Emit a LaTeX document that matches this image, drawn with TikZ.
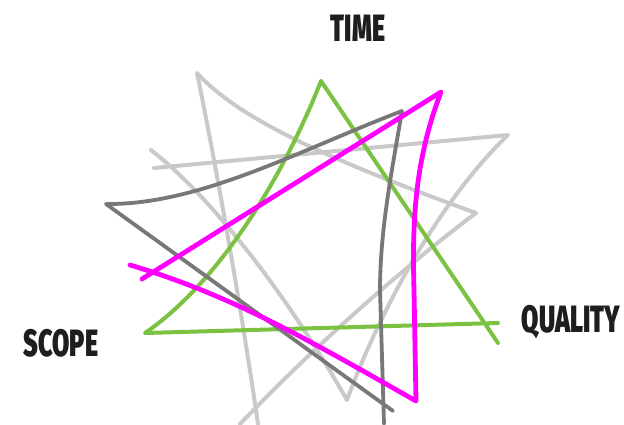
\documentclass[tikz,border=0pt]{standalone}
\usepackage{fontspec}
\usepackage{tikz}
\newfontfamily\brushfont[FakeStretch=0.66]{Fira Sans Black}
\definecolor{linegreen}{HTML}{7BC142}
\definecolor{linepink}{HTML}{FF00FF}
\definecolor{linedark}{HTML}{787876}
\definecolor{linelight}{HTML}{C9C9C9}
\definecolor{labelink}{HTML}{1E1E1C}
\tikzset{
  % ---- strokes ---------------------------------------------------------
  tstroke/.style={line width=4pt, line cap=round, line join=round},
  tlight/.style={tstroke, draw=linelight},
  tgreen/.style={tstroke, draw=linegreen},
  tdark/.style={tstroke, draw=linedark, line width=3.8pt},
  tpink/.style={tstroke, draw=linepink, line width=4.8pt},
  % ---- labels ----------------------------------------------------------
  tlabel/.style={font=\brushfont\fontsize{38}{38}\selectfont, text=labelink,
                 inner sep=0pt},
}
\begin{document}
\begin{tikzpicture}[x=1pt, y=-1pt]
\useasboundingbox (0,0) rectangle (624,424);

% ---- labels ----------------------------------------------------------
\node[tlabel] (time)    at (358,28)  {TIME};
\node[tlabel] (quality) at (571,322) {QUALITY};
\node[tlabel] (scope)   at (61,343)  {SCOPE};

% ---- light triangle, top vertex --------------------------------------
\coordinate (la) at (197,73);
\coordinate (lb) at (476,213);
\coordinate (lc) at (258,424);
\coordinate (ld) at (240,424);
\draw[tlight] (lc) .. controls (240,300) and (215,160) .. (la)
  .. controls (240,120) and (330,160) .. (lb)
  .. controls (420,255) and (330,330) .. (ld);

% ---- light triangle, right vertex ------------------------------------
\coordinate (ma) at (154,168);
\coordinate (mb) at (508,135);
\coordinate (mc) at (347,400);
\coordinate (md) at (151,150);
\draw[tlight] (ma) -- (mb)
  .. controls (440,200) and (380,310) .. (mc)
  .. controls (290,300) and (215,200) .. (md);

% ---- green triangle --------------------------------------------------
\coordinate (ga) at (321,81);
\coordinate (gb) at (498,343);
\coordinate (gc) at (145,333);
\coordinate (gd) at (498,323);
\draw[tgreen] (gb) -- (ga) .. controls (280,185) and (215,285) .. (gc) -- (gd);

% ---- dark triangle ---------------------------------------------------
\coordinate (da) at (402,111);
\coordinate (db) at (106,204);
\coordinate (dc) at (393,411);
\coordinate (dd) at (384,424);
\draw[tdark] (dc) -- (db) .. controls (200,205) and (300,150) .. (da)
  .. controls (392,170) and (380,230) .. (380,290) -- (dd);

% ---- pink triangle ---------------------------------------------------
\coordinate (pa) at (441,92);
\coordinate (pb) at (142,279);
\coordinate (pc) at (416,401);
\coordinate (pd) at (130,265);
\draw[tpink] (pb) -- (pa) .. controls (415,160) and (412,220) .. (414,290)
  -- (pc) .. controls (300,335) and (230,295) .. (pd);

\end{tikzpicture}
\end{document}
